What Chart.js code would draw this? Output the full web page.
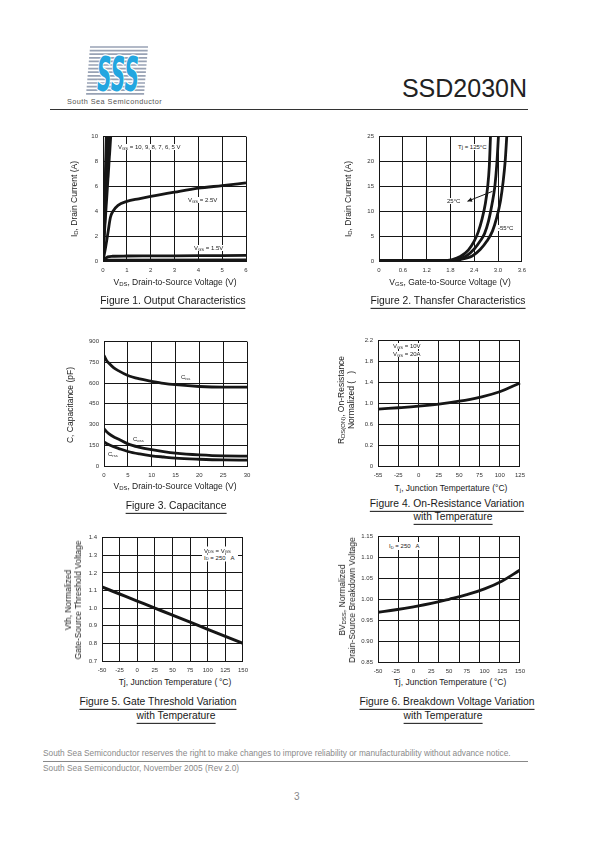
<!DOCTYPE html>
<html>
<head>
<title>SSD2030N</title>
<script src="https://cdn.jsdelivr.net/npm/chart.js@4.4.1/dist/chart.umd.min.js"></script>
<style>
  body { margin: 0; background: #fff; font-family: "Liberation Sans", Arial, sans-serif; color: #1a1a1a; }
  #page { position: relative; width: 595px; height: 842px; overflow: hidden; }
  #page canvas { position: absolute; }
  .t { position: absolute; white-space: nowrap; line-height: 1; z-index: 2; }
  .note { font-size: 6px; background: #fff; padding: 0 1px; transform: translateY(-50%); }
  .axt { font-size: 8.5px; transform: translate(-50%, -50%); }
  .axy { font-size: 8.5px; transform: translate(-50%, -50%) rotate(-90deg); text-align: center; line-height: 10px; }
  .cap { font-size: 10.3px; transform: translate(-50%, -50%); }
  .cap span { border-bottom: 1px solid #111; padding-bottom: 2px; }
  .foot { font-size: 8.3px; color: #8a8a8a; }
  sub { font-size: 0.7em; vertical-align: -0.15em; line-height: 0; }
</style>
<script>
    // Figure 1 - output characteristics
    const outSteepVgs = ['10', '9', '8', '7', '6', '5'];
    const outSteepVdsAt10A = [0.12, 0.15, 0.19, 0.23, 0.28, 0.34];
    const outVgs25Vds = [0, 0.1, 0.21, 0.31, 0.42, 0.63, 1.0, 1.5, 2, 3, 4, 5, 6];
    const outVgs25Id  = [0, 1.0, 2.3, 3.5, 4.0, 4.47, 4.79, 5.0, 5.19, 5.53, 5.85, 6.06, 6.28];
    const outVgs15Vds = [0, 0.1, 0.2, 0.4, 1, 2, 3, 4, 5, 6];
    const outVgs15Id  = [0, 0.2, 0.33, 0.38, 0.4, 0.41, 0.42, 0.43, 0.44, 0.45];
    const outOffVds = [0, 6];
    const outOffId  = [0.06, 0.08];
    const outXTicks = [0, 1, 2, 3, 4, 5, 6];
    const outYTicks = [0, 2, 4, 6, 8, 10];

    // Figure 2 - transfer characteristics
    const trVgs125 = [0, 1.6, 1.85, 2.05, 2.25, 2.4, 2.5, 2.6, 2.68, 2.74, 2.78, 2.81];
    const trId125  = [0.1, 0.1, 0.3, 0.9, 2.2, 4.0, 5.8, 8.5, 11.5, 15, 19, 25];
    const trVgs25  = [0, 1.7, 1.95, 2.2, 2.4, 2.55, 2.66, 2.76, 2.85, 2.92, 2.97, 3.01];
    const trId25   = [0.1, 0.1, 0.3, 1.0, 2.4, 4.0, 5.5, 8.0, 11.5, 15, 19.5, 25];
    const trVgsM55 = [0, 1.8, 2.05, 2.35, 2.55, 2.72, 2.86, 2.96, 3.06, 3.13, 3.18, 3.22];
    const trIdM55  = [0.1, 0.1, 0.3, 1.0, 2.3, 4.0, 6.0, 8.5, 12, 16, 20, 25];
    const trArrowFrom = [2.86, 14];
    const trArrowTo   = [2.23, 12];
    const trXTicks  = [0, 0.6, 1.2, 1.8, 2.4, 3.0, 3.6];
    const trXLabels = ['0', '0.6', '1.2', '1.8', '2.4', '3.0', '3.6'];
    const trYTicks  = [0, 5, 10, 15, 20, 25];

    // Figure 3 - capacitance
    const capVds  = [0, 0.5, 1, 2, 3, 5, 7.5, 10, 12.5, 15, 20, 25, 30];
    const capCiss = [800, 765, 745, 712, 690, 655, 630, 613, 598, 588, 575, 570, 570];
    const capCoss = [270, 250, 235, 212, 195, 160, 135, 118, 104, 93, 80, 73, 72];
    const capCrss = [175, 163, 155, 140, 128, 105, 87, 74, 65, 57, 49, 44, 43];
    const capXTicks = [0, 5, 10, 15, 20, 25, 30];
    const capYTicks = [0, 150, 300, 450, 600, 750, 900];

    // Figure 4 - on-resistance vs temperature
    const rdsTemp = ['-55', '-25', '0', '25', '50', '75', '100', '125'];
    const rdsNorm = [0.89, 0.915, 0.945, 0.985, 1.04, 1.115, 1.22, 1.39];
    const rdsYTicks  = [-0.2, 0.2, 0.6, 1.0, 1.4, 1.8, 2.2];
    const rdsYLabels = ['0', '0.2', '0.6', '1.0', '1.4', '1.8', '2.2'];

    // Figure 5 - gate threshold vs temperature
    const vthTemp = [-50, -25, 0, 25, 50, 75, 100, 125, 150];
    const vthNorm = [1.12, 1.08, 1.04, 1.00, 0.96, 0.92, 0.88, 0.84, 0.80];
    const vthYTicks = [0.7, 0.8, 0.9, 1.0, 1.1, 1.2, 1.3, 1.4];

    // Figure 6 - breakdown voltage vs temperature
    const bvTemp = [-50, -25, 0, 25, 50, 75, 100, 125, 150];
    const bvNorm = [0.969, 0.975, 0.982, 0.990, 1.000, 1.011, 1.025, 1.044, 1.070];
    const bvYTicks = [0.85, 0.90, 0.95, 1.00, 1.05, 1.10, 1.15];
    const bvGridSteps = [0, 1, 2, 3, 4, 5, 6, 7];

    const tempTicks = [-50, -25, 0, 25, 50, 75, 100, 125, 150];
</script>
</head>
<body>
<div id="page">
  <svg id="logo" class="t" style="left:84px;top:44px" width="66" height="54"></svg>
  <div class="t" style="left:67px;top:98px;font-size:7.3px;letter-spacing:0.45px;color:#555">South Sea Semiconductor</div>
  <div class="t" style="right:68px;top:76px;font-size:25px;color:#222">SSD2030N</div>
  <div class="t" style="left:50px;top:109px;width:478px;height:1.3px;background:#333"></div>

  <!-- figure 1 -->
  <div class="t note" style="left:117px;top:147px">V<sub>GS</sub> = 10, 9, 8, 7, 6, 5 V</div>
  <div class="t note" style="left:187px;top:200px">V<sub>GS</sub> = 2.5V</div>
  <div class="t note" style="left:193px;top:248px">V<sub>GS</sub> = 1.5V</div>
  <div class="t axy" style="left:74px;top:199px">I<sub>D</sub>, Drain Current (A)</div>
  <div class="t axt" style="left:175px;top:282px">V<sub>DS</sub>, Drain-to-Source Voltage (V)</div>
  <div class="t cap" style="left:173px;top:301px"><span>Figure 1. Output Characteristics</span></div>

  <!-- figure 2 -->
  <div class="t note" style="left:457px;top:147px">Tj = 125°C</div>
  <div class="t note" style="left:446px;top:201px">25°C</div>
  <div class="t note" style="left:497px;top:228px">-55°C</div>
  <div class="t axy" style="left:348px;top:199px">I<sub>D</sub>, Drain Current (A)</div>
  <div class="t axt" style="left:450px;top:282px">V<sub>GS</sub>, Gate-to-Source Voltage (V)</div>
  <div class="t cap" style="left:448px;top:301px"><span>Figure 2. Thansfer Characteristics</span></div>

  <!-- figure 3 -->
  <div class="t note" style="left:180px;top:377px">C<sub>iss</sub></div>
  <div class="t note" style="left:132px;top:439px">C<sub>oss</sub></div>
  <div class="t note" style="left:107px;top:454px">C<sub>rss</sub></div>
  <div class="t axy" style="left:70px;top:405px">C, Capacitance (pF)</div>
  <div class="t axt" style="left:175px;top:486px">V<sub>DS</sub>, Drain-to-Source Voltage (V)</div>
  <div class="t cap" style="left:176px;top:506px"><span>Figure 3. Capacitance</span></div>

  <!-- figure 4 -->
  <div class="t note" style="left:392px;top:346px">V<sub>GS</sub> = 10V</div>
  <div class="t note" style="left:392px;top:354px">V<sub>GS</sub> = 20A</div>
  <div class="t axy" style="left:346px;top:400px">R<sub>DS(ON)</sub>, On-Resistance<br>Normalized (&nbsp;&nbsp;&nbsp;)</div>
  <div class="t axt" style="left:451px;top:488px">T<sub>j</sub>, Junction Tempertature (°C)</div>
  <div class="t cap" style="left:447px;top:504px"><span>Figure 4. On-Resistance Variation</span></div>
  <div class="t cap" style="left:453px;top:517px"><span>with Temperature</span></div>

  <!-- figure 5 -->
  <div class="t note" style="left:202px;top:550px;padding:1px 3px 0 2px">V<sub>DS</sub> = V<sub>GS</sub></div>
  <div class="t note" style="left:202px;top:558px;padding:0 3px 1px 2px">I<sub>D</sub> = 250&nbsp;&nbsp;&nbsp;A</div>
  <div class="t axy" style="left:73px;top:600px">Vth, Normalized<br>Gate-Source Threshold Voltage</div>
  <div class="t axt" style="left:175px;top:682px">Tj, Junction Temperature (&thinsp;°C)</div>
  <div class="t cap" style="left:158px;top:702px"><span>Figure 5. Gate Threshold Variation</span></div>
  <div class="t cap" style="left:176px;top:716px"><span>with Temperature</span></div>

  <!-- figure 6 -->
  <div class="t note" style="left:387px;top:546px;padding:1px 2px">I<sub>D</sub> = 250&nbsp;&nbsp;&nbsp;A</div>
  <div class="t axy" style="left:347px;top:600px">BV<sub>DSS</sub>, Normalized<br>Drain-Source Breakdown Voltage</div>
  <div class="t axt" style="left:450px;top:682px">Tj, Junction Temperature (&thinsp;°C)</div>
  <div class="t cap" style="left:447px;top:702px"><span>Figure 6. Breakdown Voltage Variation</span></div>
  <div class="t cap" style="left:443px;top:716px"><span>with Temperature</span></div>

  <!-- footer -->
  <div class="t foot" style="left:43px;top:749px">South Sea Semiconductor reserves the right to make changes to improve reliability or manufacturability without advance notice.</div>
  <div class="t" style="left:43px;top:761px;width:485px;height:1px;background:#888"></div>
  <div class="t foot" style="left:43px;top:764px">South Sea Semiconductor, November 2005 (Rev 2.0)</div>
  <div class="t" style="left:294px;top:792px;font-size:10px;color:#888">3</div>
</div>

<script>
    const INK = '#161616';
    const tickFont = { family: 'Liberation Sans', size: 6 };
    const page = document.getElementById('page');

    // logo: grey stripes with the blue SSS on top
    (function () {
        const svg = document.getElementById('logo');
        let s = '';
        for (let r = 0; r < 14; r++) {
            const y = 3 + r * 3.6;
            s += '<line x1="' + (6 - r * 0.3) + '" y1="' + y + '" x2="' + (64 - r * 0.3) + '" y2="' + y + '" stroke="#98a2b4" stroke-width="1.7"/>';
        }
        s += '<text x="13" y="47" font-family="DejaVu Sans" font-size="48" font-style="italic" font-weight="bold" fill="#23a6e0" stroke="#fff" stroke-width="2.5" paint-order="stroke" textLength="42" lengthAdjust="spacingAndGlyphs">SSS</text>';
        svg.innerHTML = s;
    })();

    function fixedTicks(values) {
        return function (scale) { scale.ticks = values.map(v => ({ value: v })); };
    }

    function xAxis(min, max, ticks, labels, extra) {
        return Object.assign({
            type: 'linear', position: 'bottom', min: min, max: max,
            afterBuildTicks: fixedTicks(ticks),
            afterFit: s => { s.height = 12; },
            grid: { color: INK, lineWidth: 1, drawTicks: false },
            border: { color: INK, width: 1 },
            ticks: { font: tickFont, color: '#333', padding: 6, maxRotation: 0, autoSkip: false,
                     callback: (v, i) => labels[i] }
        }, extra || {});
    }

    function yAxis(min, max, ticks, labels) {
        return {
            type: 'linear', min: min, max: max,
            afterBuildTicks: fixedTicks(ticks),
            afterFit: s => { s.width = 40; },
            grid: { color: INK, lineWidth: 1, drawTicks: false },
            border: { color: INK, width: 1 },
            ticks: { font: tickFont, color: '#333', padding: 5, autoSkip: false,
                     callback: (v, i) => labels[i] }
        };
    }

    function curve(xs, ys, width) {
        return {
            data: xs.map((x, i) => ({ x: x, y: ys[i] })),
            borderColor: INK, borderWidth: width || 2.8, pointRadius: 0,
            cubicInterpolationMode: 'monotone', fill: false
        };
    }

    // box = plot area [left, top, right, bottom] in page pixels
    function plot(box, data, scales, plugins) {
        const [L, T, R, B] = box;
        const c = document.createElement('canvas');
        c.width = R - L + 50;
        c.height = B - T + 20;
        c.style.left = (L - 40) + 'px';
        c.style.top = (T - 8) + 'px';
        page.appendChild(c);
        new Chart(c, {
            type: 'line',
            data: data,
            options: {
                responsive: false, animation: false, devicePixelRatio: 1, events: [],
                layout: { padding: { top: 8, right: 10, left: 0, bottom: 0 } },
                plugins: { legend: { display: false }, tooltip: { enabled: false } },
                scales: scales
            },
            plugins: plugins || []
        });
    }

    const str = a => a.map(v => String(v));

    // Figure 1
    const outSets = outSteepVdsAt10A.map(v => curve([0, v], [0, 10], 2));
    outSets.push(curve(outVgs25Vds, outVgs25Id));
    outSets.push(curve(outVgs15Vds, outVgs15Id));
    outSets.push(curve(outOffVds, outOffId, 3));
    plot([103, 136, 246, 261], { datasets: outSets }, {
        x: xAxis(0, 6, outXTicks, str(outXTicks)),
        y: yAxis(0, 10, outYTicks, str(outYTicks))
    });

    // Figure 2
    const arrowPlugin = {
        id: 'arrow',
        afterDatasetsDraw(chart) {
            const { ctx, scales: { x, y } } = chart;
            const x0 = x.getPixelForValue(trArrowFrom[0]), y0 = y.getPixelForValue(trArrowFrom[1]);
            const x1 = x.getPixelForValue(trArrowTo[0]), y1 = y.getPixelForValue(trArrowTo[1]);
            const a = Math.atan2(y1 - y0, x1 - x0);
            ctx.save();
            ctx.strokeStyle = INK; ctx.fillStyle = INK; ctx.lineWidth = 1;
            ctx.beginPath(); ctx.moveTo(x0, y0); ctx.lineTo(x1, y1); ctx.stroke();
            ctx.beginPath();
            ctx.moveTo(x1, y1);
            ctx.lineTo(x1 - 5 * Math.cos(a - 0.45), y1 - 5 * Math.sin(a - 0.45));
            ctx.lineTo(x1 - 5 * Math.cos(a + 0.45), y1 - 5 * Math.sin(a + 0.45));
            ctx.closePath(); ctx.fill();
            ctx.restore();
        }
    };
    plot([379, 136, 522, 261], { datasets: [
        curve(trVgs125, trId125), curve(trVgs25, trId25), curve(trVgsM55, trIdM55)
    ] }, {
        x: xAxis(0, 3.6, trXTicks, trXLabels),
        y: yAxis(0, 25, trYTicks, str(trYTicks))
    }, [arrowPlugin]);

    // Figure 3
    plot([104, 341, 247, 466], { datasets: [
        curve(capVds, capCiss), curve(capVds, capCoss), curve(capVds, capCrss)
    ] }, {
        x: xAxis(0, 30, capXTicks, str(capXTicks)),
        y: yAxis(0, 900, capYTicks, str(capYTicks))
    });

    // Figure 4 - evenly spaced temperature labels, so a category axis
    plot([378, 340, 521, 466], {
        labels: rdsTemp,
        datasets: [{ data: rdsNorm, borderColor: INK, borderWidth: 2.8, pointRadius: 0,
                     tension: 0.4, fill: false }]
    }, {
        x: {
            type: 'category', offset: false,
            afterFit: s => { s.height = 12; },
            grid: { color: INK, lineWidth: 1, drawTicks: false, offset: false },
            border: { color: INK, width: 1 },
            ticks: { font: tickFont, color: '#333', padding: 6, maxRotation: 0, autoSkip: false }
        },
        y: yAxis(-0.2, 2.2, rdsYTicks, rdsYLabels)
    });

    // Figure 5
    plot([102, 537, 244, 661], { datasets: [curve(vthTemp, vthNorm, 3)] }, {
        x: xAxis(-50, 150, tempTicks, str(tempTicks)),
        y: yAxis(0.7, 1.4, vthYTicks, vthYTicks.map(v => v.toFixed(1)))
    });

    // Figure 6 - its grid has 7 columns while the labels have 8 steps
    const bvLine = curve(bvTemp, bvNorm);
    bvLine.cubicInterpolationMode = 'default';
    bvLine.tension = 0.4;
    plot([378, 536, 521, 662], { datasets: [bvLine] }, {
        x: xAxis(-50, 150, tempTicks, str(tempTicks), { grid: { display: false, drawTicks: false } }),
        xg: {
            type: 'linear', position: 'bottom', min: 0, max: 7,
            afterBuildTicks: fixedTicks(bvGridSteps),
            afterFit: s => { s.height = 0; },
            ticks: { display: false },
            grid: { color: INK, lineWidth: 1, drawTicks: false },
            border: { display: false }
        },
        y: yAxis(0.85, 1.15, bvYTicks, bvYTicks.map(v => v.toFixed(2)))
    });
</script>
</body>
</html>
